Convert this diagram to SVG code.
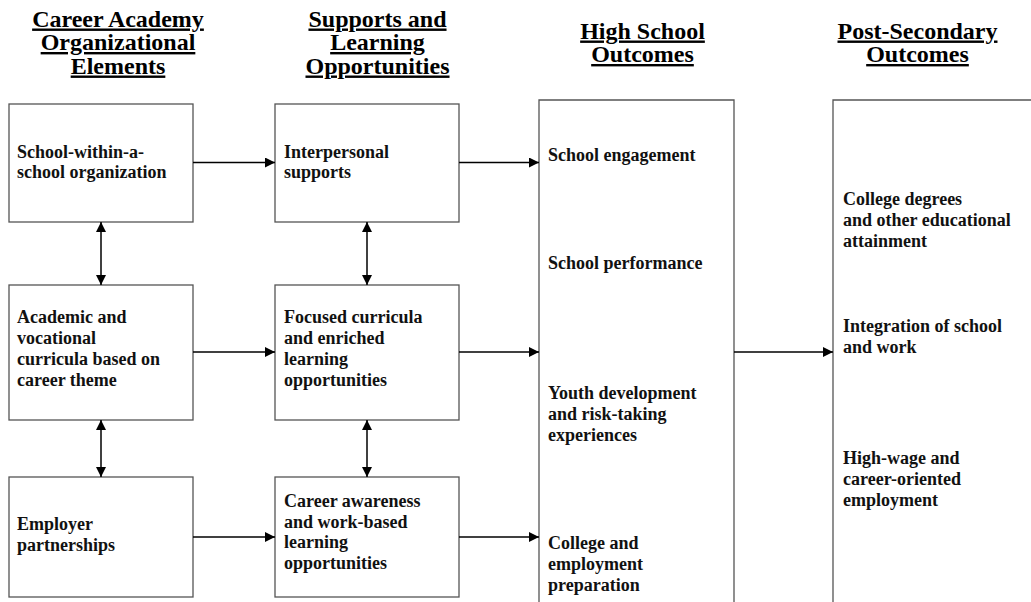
<svg xmlns="http://www.w3.org/2000/svg" width="1031" height="602" viewBox="0 0 1031 602">
<style>
.hd{font-family:"Liberation Serif","Times New Roman",serif;font-weight:bold;font-size:24px;fill:#000;text-anchor:middle;text-decoration:underline;text-decoration-thickness:2px;text-underline-offset:2px;}
.t{font-family:"Liberation Serif","Times New Roman",serif;font-weight:bold;font-size:18px;fill:#111;}
.box{fill:#fff;stroke:#555;stroke-width:1.3;}
.col{fill:none;stroke:#555;stroke-width:1.3;}
.arr{stroke:#000;stroke-width:1.5;fill:none;marker-end:url(#ah);}
.dbl{stroke:#000;stroke-width:1.5;fill:none;marker-start:url(#ah);marker-end:url(#ah);}
</style>
<defs>
<marker id="ah" markerWidth="10" markerHeight="10" refX="10" refY="5" orient="auto-start-reverse" markerUnits="userSpaceOnUse">
<path d="M0,0 L10,5 L0,10 z" fill="#000"/>
</marker>
</defs>
<rect width="1031" height="602" fill="#fff"/>

<g id="headers">
<text class="hd" x="118" y="26.5">Career Academy</text>
<text class="hd" x="118" y="50">Organizational</text>
<text class="hd" x="118" y="73.5">Elements</text>
<text class="hd" x="377.5" y="26.5">Supports and</text>
<text class="hd" x="377.5" y="50">Learning</text>
<text class="hd" x="377.5" y="73.5">Opportunities</text>
<text class="hd" x="642.5" y="38.5">High School</text>
<text class="hd" x="642.5" y="62">Outcomes</text>
<text class="hd" x="917.5" y="38.5">Post-Secondary</text>
<text class="hd" x="917.5" y="62">Outcomes</text>
</g>

<g id="n-school-within">
<rect class="box" x="9" y="104" width="184" height="118"/>
<text class="t" x="17" y="157.5">School-within-a-</text>
<text class="t" x="17" y="178">school organization</text>
</g>
<g id="n-interpersonal">
<rect class="box" x="275" y="104" width="184" height="118"/>
<text class="t" x="284" y="157.5">Interpersonal</text>
<text class="t" x="284" y="178">supports</text>
</g>
<g id="n-academic">
<rect class="box" x="9" y="285" width="184" height="135"/>
<text class="t" x="17" y="323">Academic and</text>
<text class="t" x="17" y="344">vocational</text>
<text class="t" x="17" y="365">curricula based on</text>
<text class="t" x="17" y="386">career theme</text>
</g>
<g id="n-focused">
<rect class="box" x="275" y="285" width="184" height="135"/>
<text class="t" x="284" y="323">Focused curricula</text>
<text class="t" x="284" y="344">and enriched</text>
<text class="t" x="284" y="365">learning</text>
<text class="t" x="284" y="386">opportunities</text>
</g>
<g id="n-employer">
<rect class="box" x="9" y="477" width="184" height="120"/>
<text class="t" x="17" y="530">Employer</text>
<text class="t" x="17" y="551">partnerships</text>
</g>
<g id="n-career-awareness">
<rect class="box" x="275" y="477" width="184" height="120"/>
<text class="t" x="284" y="506.5">Career awareness</text>
<text class="t" x="284" y="527.5">and work-based</text>
<text class="t" x="284" y="548">learning</text>
<text class="t" x="284" y="569">opportunities</text>
</g>
<g id="n-high-school">
<path class="col" d="M539,610 V100 H734 V610"/>
<text class="t" x="548" y="160.5">School engagement</text>
<text class="t" x="548" y="269">School performance</text>
<text class="t" x="548" y="398.5">Youth development</text>
<text class="t" x="548" y="419.5">and risk-taking</text>
<text class="t" x="548" y="440.5">experiences</text>
<text class="t" x="548" y="549">College and</text>
<text class="t" x="548" y="570">employment</text>
<text class="t" x="548" y="591">preparation</text>
</g>
<g id="n-post-secondary">
<path class="col" d="M833,610 V100 H1040"/>
<text class="t" x="843" y="205">College degrees</text>
<text class="t" x="843" y="226">and other educational</text>
<text class="t" x="843" y="247">attainment</text>
<text class="t" x="843" y="332">Integration of school</text>
<text class="t" x="843" y="353">and work</text>
<text class="t" x="843" y="464">High-wage and</text>
<text class="t" x="843" y="485">career-oriented</text>
<text class="t" x="843" y="506">employment</text>
</g>

<g id="connectors">
<line class="arr" x1="193" y1="162.5" x2="275" y2="162.5"/>
<line class="arr" x1="459" y1="162.5" x2="539" y2="162.5"/>
<line class="arr" x1="193" y1="352" x2="275" y2="352"/>
<line class="arr" x1="459" y1="352" x2="539" y2="352"/>
<line class="arr" x1="193" y1="537" x2="275" y2="537"/>
<line class="arr" x1="459" y1="537" x2="539" y2="537"/>
<line class="arr" x1="734" y1="352" x2="833" y2="352"/>
<line class="dbl" x1="101" y1="222" x2="101" y2="285"/>
<line class="dbl" x1="101" y1="420" x2="101" y2="477"/>
<line class="dbl" x1="367" y1="222" x2="367" y2="285"/>
<line class="dbl" x1="367" y1="420" x2="367" y2="477"/>
</g>
</svg>
